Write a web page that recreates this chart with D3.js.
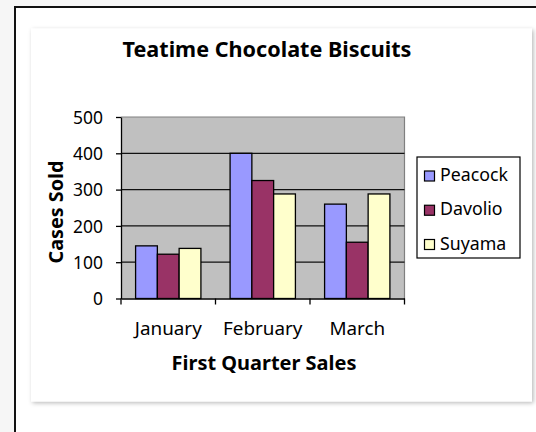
<!DOCTYPE html>
<html>
<head>
<meta charset="utf-8">
<script src="https://cdn.jsdelivr.net/npm/d3@7"></script>
<style>
  html, body { margin: 0; padding: 0; background: #f6f6f6; }
  svg { display: block; }
  text { font-family: "Noto Sans", "DejaVu Sans", sans-serif; fill: #000; }
</style>
</head>
<body>
<script>
// ---- data ----
const months = ["January", "February", "March"];
const seriesNames = ["Peacock", "Davolio", "Suyama"];
const peacock = [145, 400, 260];
const davolio = [122, 325, 155];
const suyama = [138, 288, 288];
const yTicks = [0, 100, 200, 300, 400, 500];
const seriesColors = ["#9999ff", "#993366", "#ffffcc"];
const titleText = "Teatime Chocolate Biscuits";
const xTitleText = "First Quarter Sales";
const yTitleText = "Cases Sold";

const seriesValues = [peacock, davolio, suyama];

const W = 536, H = 432;
const svg = d3.select("body").append("svg").attr("width", W).attr("height", H);

// font size that gives the text the target width
function fitSize(sel, target) {
  const w = sel.node().getComputedTextLength();
  const fs = parseFloat(sel.attr("font-size"));
  return fs * target / w;
}
function fit(sel, target) {
  sel.attr("font-size", fitSize(sel, target).toFixed(2));
  return sel;
}

const defs = svg.append("defs");
const f = defs.append("filter").attr("id", "sh").attr("x", "-5%").attr("y", "-5%").attr("width", "110%").attr("height", "110%");
f.append("feDropShadow").attr("dx", 1.5).attr("dy", 1.5).attr("stdDeviation", 2)
  .attr("flood-color", "#000").attr("flood-opacity", 0.28);

// window background + frame
svg.append("rect").attr("width", W).attr("height", H).attr("fill", "#f6f6f6");
svg.append("rect").attr("x", 15).attr("y", 7).attr("width", 600).attr("height", 500)
  .attr("fill", "#ffffff").attr("stroke", "#111").attr("stroke-width", 2);

// chart card
svg.append("rect").attr("x", 31).attr("y", 28.5).attr("width", 501).attr("height", 373)
  .attr("fill", "#ffffff").attr("filter", "url(#sh)");

// scales
const plot = { x0: 121, x1: 404.5, y0: 117, y1: 298.5 };
const x = d3.scaleBand().domain(months).range([plot.x0, plot.x1]).paddingInner(0).paddingOuter(0);
const xs = d3.scaleBand().domain(seriesNames).range([0, x.bandwidth()]).paddingInner(0).paddingOuter(0.67);
const y = d3.scaleLinear().domain([0, 500]).range([plot.y1, plot.y0]);

// plot area
svg.append("rect").attr("x", plot.x0).attr("y", y(500)).attr("width", plot.x1 - plot.x0)
  .attr("height", y(0) - y(500)).attr("fill", "#c0c0c0");
svg.append("path")
  .attr("d", `M${plot.x0},${y(500)}H${plot.x1}V${y(0)}`)
  .attr("fill", "none").attr("stroke", "#808080").attr("stroke-width", 1.2);

// gridlines
svg.append("g").selectAll("line").data(yTicks.filter(d => d > 0 && d < 500)).join("line")
  .attr("x1", plot.x0).attr("x2", plot.x1).attr("y1", d => y(d)).attr("y2", d => y(d))
  .attr("stroke", "#111").attr("stroke-width", 1.3);

// bars
const rows = [];
months.forEach((m, i) => seriesNames.forEach((s, j) => rows.push({ m, s, v: seriesValues[j][i], c: seriesColors[j] })));
svg.append("g").selectAll("rect").data(rows).join("rect")
  .attr("x", d => x(d.m) + xs(d.s))
  .attr("y", d => y(d.v))
  .attr("width", xs.bandwidth())
  .attr("height", d => y(0) - y(d.v))
  .attr("fill", d => d.c)
  .attr("stroke", "#000").attr("stroke-width", 1.3);

// y axis
const yAxis = svg.append("g").attr("transform", `translate(${plot.x0},0)`)
  .call(d3.axisLeft(y).tickValues(yTicks).tickSize(5).tickPadding(13).tickSizeOuter(0));
yAxis.select(".domain").attr("stroke", "#000").attr("stroke-width", 1.3);
yAxis.selectAll(".tick line").attr("stroke", "#000").attr("stroke-width", 1.3);
const yLabels = yAxis.selectAll(".tick text").attr("font-size", 16).attr("font-family", "'Noto Sans', sans-serif")
  .attr("dy", "0.36em").attr("fill", "#000");
const ySize = fitSize(yLabels.filter(d => d === 500), 30);
yLabels.attr("font-size", ySize.toFixed(2));

// x axis
const xAxis = svg.append("g").attr("transform", `translate(0,${y(0)})`)
  .call(d3.axisBottom(x).tickSize(0).tickPadding(23).tickSizeOuter(0));
xAxis.select(".domain").attr("stroke", "#000").attr("stroke-width", 1.3);
const xLabels = xAxis.selectAll(".tick text").attr("font-size", 16).attr("font-family", "'Noto Sans', sans-serif").attr("fill", "#000");
const xSize = fitSize(xLabels.filter(d => d === "January"), 67);
xLabels.attr("font-size", xSize.toFixed(2));
// boundary ticks between categories
const bounds = months.map(m => x(m)).concat([x.range()[1]]);
svg.append("g").selectAll("line").data(bounds).join("line")
  .attr("x1", d => d).attr("x2", d => d).attr("y1", y(0)).attr("y2", y(0) + 6)
  .attr("stroke", "#000").attr("stroke-width", 1.3);

// titles
const t = svg.append("text").attr("x", 267).attr("y", 57).attr("text-anchor", "middle")
  .attr("font-weight", "bold").attr("font-size", 18).text(titleText);
fit(t, 289);

const xt = svg.append("text").attr("x", 264).attr("y", 370).attr("text-anchor", "middle")
  .attr("font-weight", "bold").attr("font-size", 16).text(xTitleText);
fit(xt, 185);

const yt = svg.append("text").attr("transform", "translate(63,212) rotate(-90)").attr("text-anchor", "middle")
  .attr("font-weight", "bold").attr("font-size", 16).text(yTitleText);
fit(yt, 103);

// legend
const lg = svg.append("g");
lg.append("rect").attr("x", 417).attr("y", 157).attr("width", 103).attr("height", 101)
  .attr("fill", "#fff").attr("stroke", "#000").attr("stroke-width", 1.2);
const ly = d3.scalePoint().domain(seriesNames).range([175.5, 244]);
const items = lg.selectAll("g").data(seriesNames).join("g");
items.append("rect").attr("x", 424.5).attr("y", d => ly(d) - 4.5).attr("width", 10).attr("height", 10)
  .attr("fill", (d, i) => seriesColors[i]).attr("stroke", "#000").attr("stroke-width", 1.2);
const lText = items.append("text").attr("x", 440).attr("y", d => ly(d) + 5.5).attr("font-size", 16).text(d => d);
const lSize = fitSize(lText.filter(d => d === "Peacock"), 68);
lText.attr("font-size", lSize.toFixed(2));
</script>
</body>
</html>
